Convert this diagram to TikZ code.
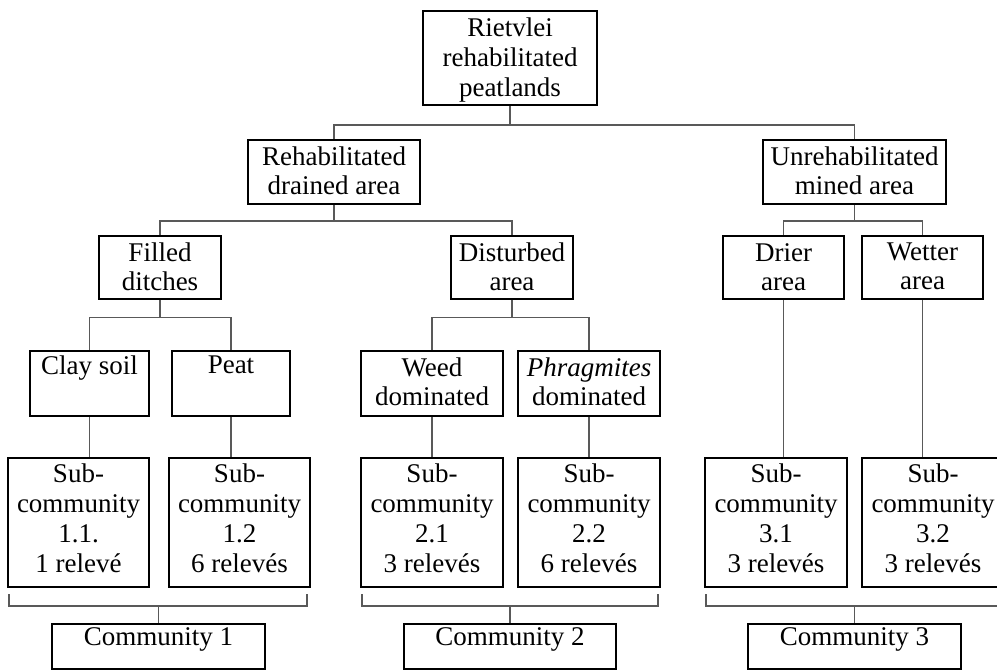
\documentclass[tikz,border=0pt]{standalone}
\usepackage{fontspec}
\setmainfont{Liberation Serif}
\tikzset{
  boxst/.style={draw=black, line width=2.7pt, inner sep=0pt},
  txtst/.style={inner sep=0pt, align=center},
  conn/.style={draw=black!65, line width=1.2pt},
}
% [baselineskip] name, L, T, R, B, pad, text
\newcommand\mkbox[8][29]{%
  \node[boxst, minimum width={(#5-#3)*1pt}, minimum height={(#6-#4)*1pt}] (#2) at ({(#3+#5)/2},{(#4+#6)/2}) {};
  \node[txtst, font=\fontsize{27}{#1}\selectfont, anchor=north] (#2-t) at ({(#3+#5)/2},{#4+#7}) {#8};
}
\begin{document}
\begin{tikzpicture}[x=1pt,y=-1pt]
\useasboundingbox (0,0) rectangle (997,670);
\clip (0,0) rectangle (997,670);

\mkbox[30]{root}{423}{11}{597}{105}{7}{Rietvlei\\rehabilitated\\peatlands}
\mkbox{rda}{248}{140}{420}{204}{7}{Rehabilitated\\drained area}
\mkbox{uma}{763}{140}{946}{204}{7}{Unrehabilitated\\mined area}
\mkbox{fd}{99}{236}{221}{299}{7}{Filled\\ditches}
\mkbox{da}{451}{236}{573}{299}{7}{Disturbed\\area}
\mkbox{dr}{723}{236}{844}{299}{7}{Drier\\area}
\mkbox{we}{862}{236}{983}{299}{7}{Wetter\\area}
\mkbox{cs}{30}{351}{149}{416}{5}{Clay soil}
\mkbox{pe}{172}{351}{290}{416}{5}{Peat}
\mkbox{wd}{361}{351}{503}{416}{7}{Weed\\dominated}
\mkbox{ph}{518}{351}{660}{416}{7}{\textit{Phragmites}\\dominated}
\mkbox[30]{s11}{8}{458}{149}{587}{6}{Sub-\\community\\1.1.\\1 relevé}
\mkbox[30]{s12}{169}{458}{310}{587}{6}{Sub-\\community\\1.2\\6 relevés}
\mkbox[30]{s21}{361}{458}{503}{587}{6}{Sub-\\community\\2.1\\3 relevés}
\mkbox[30]{s22}{518}{458}{660}{587}{6}{Sub-\\community\\2.2\\6 relevés}
\mkbox[30]{s31}{705}{458}{847}{587}{6}{Sub-\\community\\3.1\\3 relevés}
\mkbox[30]{s32}{862}{458}{1004}{587}{6}{Sub-\\community\\3.2\\3 relevés}
\mkbox{c1}{52}{624}{265}{669}{3}{Community 1}
\mkbox{c2}{404}{624}{616}{669}{3}{Community 2}
\mkbox{c3}{748}{624}{961}{669}{3}{Community 3}

% junction levels
\coordinate (y0) at (0,125);
\coordinate (y1) at (0,221);
\coordinate (y2) at (0,317.5);
\coordinate (yb) at (0,606);

% root -> level 1
\draw[conn] (root.south) -- (root.south |- y0);
\draw[conn] (rda.north) -- (rda.north |- y0) -- (uma.north |- y0) -- (uma.north);
% level 1 -> level 2
\draw[conn] (rda.south) -- (rda.south |- y1);
\draw[conn] (fd.north) -- (fd.north |- y1) -- (da.north |- y1) -- (da.north);
\draw[conn] (uma.south) -- (uma.south |- y1);
\draw[conn] (dr.north) -- (dr.north |- y1) -- (we.north |- y1) -- (we.north);
% level 2 -> level 3
\draw[conn] (fd.south) -- (fd.south |- y2);
\draw[conn] (cs.north) -- (cs.north |- y2) -- (pe.north |- y2) -- (pe.north);
\draw[conn] (da.south) -- (da.south |- y2);
\draw[conn] (wd.north) -- (wd.north |- y2) -- (ph.north |- y2) -- (ph.north);
% level 3 -> sub-communities
\draw[conn] (cs.south) -- (cs.south |- s11.north);
\draw[conn] (pe.south) -- (pe.south |- s12.north);
\draw[conn] (wd.south) -- (wd.south |- s21.north);
\draw[conn] (ph.south) -- (ph.south |- s22.north);
\draw[conn] (dr.south) -- (dr.south |- s31.north);
\draw[conn] (we.south) -- (we.south |- s32.north);

% brackets to communities
\coordinate (b1l) at (9,594);   \coordinate (b1r) at (307,594);
\coordinate (b2l) at (362,594); \coordinate (b2r) at (658,594);
\coordinate (b3l) at (706,594); \coordinate (b3r) at (1003,594);
\draw[conn] (b1l) -- (b1l |- yb) -- (b1r |- yb) -- (b1r);
\draw[conn] (b2l) -- (b2l |- yb) -- (b2r |- yb) -- (b2r);
\draw[conn] (b3l) -- (b3l |- yb) -- (b3r |- yb) -- (b3r);
\draw[conn] (c1.north) -- (c1.north |- yb);
\draw[conn] (c2.north) -- (c2.north |- yb);
\draw[conn] (c3.north) -- (c3.north |- yb);
\end{tikzpicture}
\end{document}
